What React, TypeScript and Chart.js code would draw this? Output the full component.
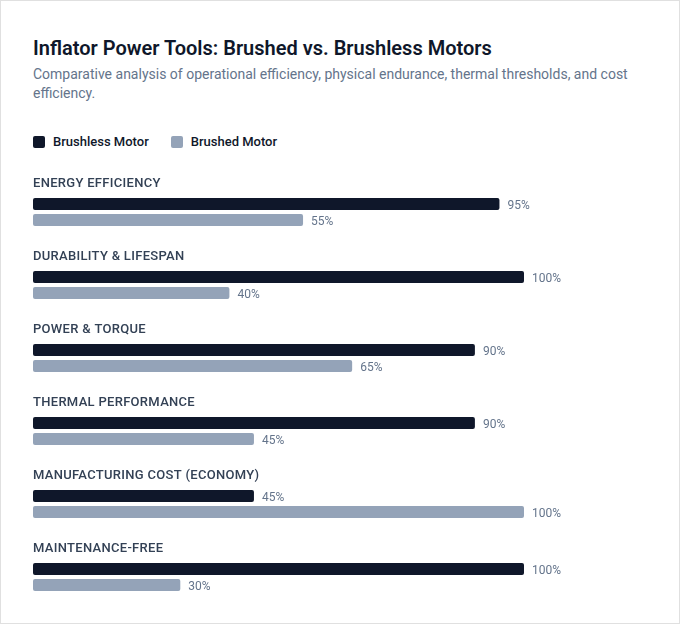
import React, { useEffect, useRef } from "react";
import { Chart, registerables } from "chart.js";

Chart.register(...registerables);

const categories = [
  "ENERGY EFFICIENCY",
  "DURABILITY & LIFESPAN",
  "POWER & TORQUE",
  "THERMAL PERFORMANCE",
  "MANUFACTURING COST (ECONOMY)",
  "MAINTENANCE-FREE",
];
const brushlessValues = [95, 100, 90, 90, 45, 100];
const brushedValues = [55, 40, 65, 45, 100, 30];
const seriesNames = ["Brushless Motor", "Brushed Motor"];
const seriesColors = ["#0f172a", "#94a3b8"];

const titleText = "Inflator Power Tools: Brushed vs. Brushless Motors";
const subtitleText =
  "Comparative analysis of operational efficiency, physical endurance, thermal thresholds, and cost efficiency.";

const FONT = "Roboto, 'Segoe UI', sans-serif";

const labelsPlugin = {
  id: "groupLabels",
  afterDatasetsDraw(chart: any) {
    const { ctx } = chart;
    const yScale = chart.scales.y;
    const area = chart.chartArea;
    ctx.save();
    ctx.font = `500 13px ${FONT}`;
    ctx.fillStyle = "#334155";
    ctx.textAlign = "left";
    ctx.textBaseline = "middle";
    (ctx as any).letterSpacing = "0.3px";
    (chart.data.labels as string[]).forEach((lab, i) => {
      const y = yScale.getPixelForValue(i);
      ctx.fillText(String(lab), area.left, y - 28.5);
    });
    (ctx as any).letterSpacing = "0px";
    ctx.font = `12px ${FONT}`;
    ctx.fillStyle = "#64748b";
    chart.data.datasets.forEach((ds: any, di: number) => {
      const meta = chart.getDatasetMeta(di);
      meta.data.forEach((bar: any, i: number) => {
        ctx.fillText(`${ds.data[i]}%`, bar.x + 8, bar.y + 1.5);
      });
    });
    ctx.restore();
  },
};

function BarChart() {
  const ref = useRef<HTMLCanvasElement | null>(null);
  useEffect(() => {
    if (!ref.current) return;
    const chart = new Chart(ref.current, {
      type: "bar",
      data: {
        labels: categories,
        datasets: [
          {
            label: seriesNames[0],
            data: brushlessValues,
            backgroundColor: seriesColors[0],
            borderRadius: 2,
            borderSkipped: false,
            categoryPercentage: 32 / 73,
            barPercentage: 0.75,
          },
          {
            label: seriesNames[1],
            data: brushedValues,
            backgroundColor: seriesColors[1],
            borderRadius: 2,
            borderSkipped: false,
            categoryPercentage: 32 / 73,
            barPercentage: 0.75,
          },
        ],
      },
      options: {
        indexAxis: "y",
        responsive: false,
        animation: false,
        layout: { padding: { top: 15.5, right: 123, bottom: 0.5, left: 0 } },
        plugins: {
          legend: { display: false },
          tooltip: { enabled: false },
          title: { display: false },
        },
        scales: {
          x: { type: "linear", min: 0, max: 100, display: false },
          y: { type: "category", display: false, offset: true, grid: { display: false } },
        },
      },
      plugins: [labelsPlugin],
    } as any);
    return () => chart.destroy();
  }, []);
  return <canvas ref={ref} width={614} height={454} style={{ display: "block", width: 614, height: 454 }} />;
}

export default function App() {
  return (
    <div
      style={{
        position: "relative",
        width: 680,
        height: 624,
        boxSizing: "border-box",
        border: "1px solid #e0e0e0",
        background: "#ffffff",
        fontFamily: FONT,
        padding: "33px 32px 0 32px",
      }}
    >
      <style>{"body{margin:0;background:#fff}"}</style>
      <h1 style={{ margin: 0, fontSize: 20, fontWeight: 600, lineHeight: "28px", color: "#0f172a" }}>{titleText}</h1>
      <p style={{ margin: "3px 0 0", fontSize: 14, lineHeight: "19px", color: "#64748b" }}>{subtitleText}</p>
      <div
        style={{
          position: "absolute",
          top: 133,
          left: 32,
          display: "flex",
          alignItems: "center",
          gap: 22,
        }}
      >
        {seriesNames.map((n, i) => (
          <div key={n} style={{ display: "flex", alignItems: "center", gap: 8 }}>
            <span style={{ width: 12, height: 12, borderRadius: 2, background: seriesColors[i], display: "inline-block" }} />
            <span style={{ fontSize: 13, lineHeight: "16px", fontWeight: 500, color: "#0f172a" }}>{n}</span>
          </div>
        ))}
      </div>
      <div style={{ position: "absolute", top: 159, left: 32, width: 614, height: 454 }}>
        <BarChart />
      </div>
    </div>
  );
}
